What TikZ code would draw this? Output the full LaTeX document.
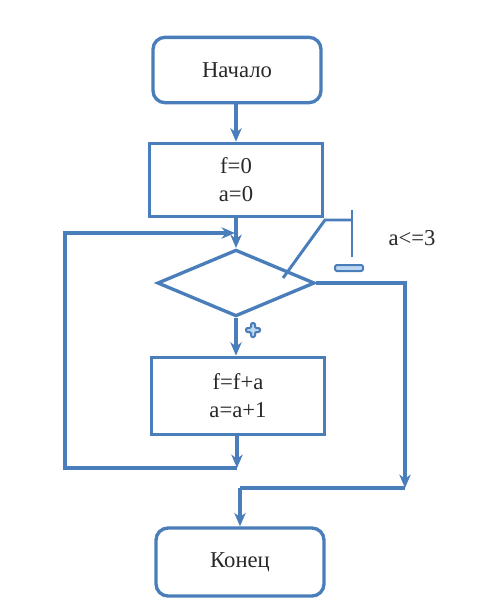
\documentclass[tikz,border=0pt]{standalone}
\usepackage{fontspec}
\setmainfont{Liberation Serif}
\newfontfamily\dfont{Liberation Serif}
\usetikzlibrary{arrows.meta,shapes.geometric}
\definecolor{fc}{RGB}{74,126,187}
\definecolor{fcl}{RGB}{190,215,240}
\definecolor{txt}{RGB}{40,40,40}
\begin{document}
\begin{tikzpicture}[x=0.75pt,y=-0.75pt,
  every node/.style={font=\dfont\fontsize{17}{21}\selectfont, text=txt},
  blk/.style={draw=fc, line width=2.5pt, rectangle, align=center, inner sep=0pt},
  term/.style={blk, rounded corners=9pt},
  dia/.style={draw=fc, line width=2.5pt, diamond, inner sep=0pt},
  conn/.style={draw=fc, line width=2.5pt},
  arr/.style={conn, -{Stealth[length=10pt,width=8.5pt,inset=3pt]}},
  signmark/.style={draw=fc, fill=fcl, line width=1.5pt}
]
\useasboundingbox (0,0) rectangle (500,612);

\node[term, minimum width=126pt, minimum height=49pt] (start) at (237,70) {Начало};
\node[blk, minimum width=130pt, minimum height=55pt] (init) at (236,180) {f=0\\a=0};
\node[dia, minimum width=118pt, minimum height=50pt] (dec) at (236,283) {};
\node[blk, minimum width=130pt, minimum height=58pt] (body) at (238,396) {f=f+a\\a=a+1};
\node[term, minimum width=126pt, minimum height=51pt] (end) at (240,562) {Конец};
\node (cond) at (412,238) {a<=3};

\coordinate (lb) at (237,468);
\coordinate (lt) at (65,233);
\coordinate (lin) at (235,233);
\coordinate (rt) at (405,283);
\coordinate (rb) at (405,488);
\coordinate (jb) at (240,488);
\coordinate (c1) at (283,278);
\coordinate (c2) at (325,220);
\coordinate (c3) at (352,220);
\coordinate (b1) at (352,210);
\coordinate (b2) at (352,257);

\draw[arr] (start.south -| init.north) -- (init.north);
\draw[arr] (init) -- (dec);
\draw[arr] (dec) -- (body.north -| dec.south);
\draw[arr] (body.south -| lb) -- (lb);
\draw[arr] (lb) -| (lt) -- (lin);
\draw[arr] (dec.east) -- (rt) -- (rb);
\draw[conn] (rb) -- (jb);
\draw[arr] (jb) -- (end);
\draw[conn, line width=2.2pt] (c1) -- (c2) -- (c3);
\draw[conn, line width=2.2pt] (b1) -- (b2);

% minus sign
\draw[signmark, rounded corners=1.5pt] (335,265) rectangle (363,271);
% plus sign
\draw[signmark, rounded corners=1pt] (251,323) -- (255,323) -- (255,328) -- (260,328) -- (260,332) -- (255,332) -- (255,337) -- (251,337) -- (251,332) -- (246,332) -- (246,328) -- (251,328) -- cycle;
\end{tikzpicture}
\end{document}
